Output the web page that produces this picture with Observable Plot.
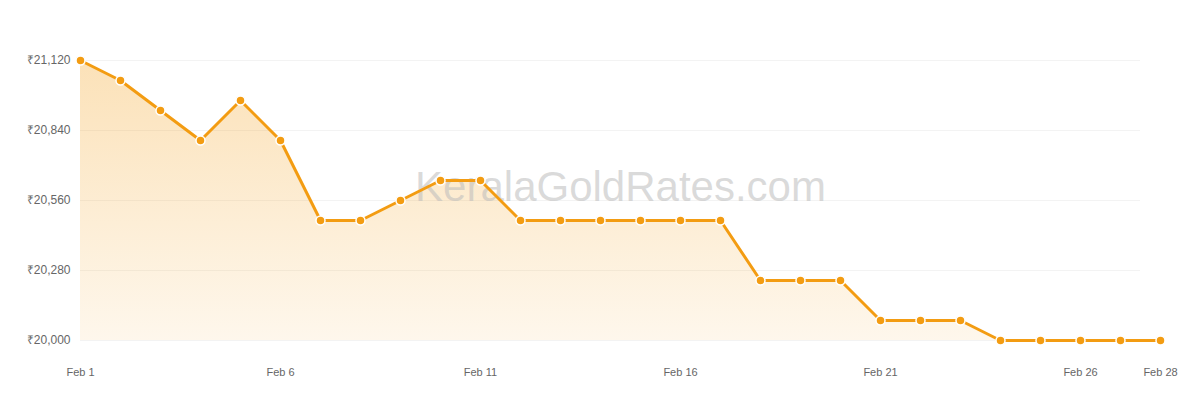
<!DOCTYPE html>
<html>
<head>
<meta charset="utf-8">
<script src="https://cdn.jsdelivr.net/npm/d3@7"></script>
<script src="https://cdn.jsdelivr.net/npm/@observablehq/plot@0.6"></script>
<style>
  html, body { margin: 0; padding: 0; background: #fff; }
  #chart { width: 1200px; height: 400px; }
  svg { font-family: "Liberation Sans", Arial, sans-serif; }
</style>
</head>
<body>
<div id="chart"></div>
<script>
const days = [1,2,3,4,5,6,7,8,9,10,11,12,13,14,15,16,17,18,19,20,21,22,23,24,25,26,27,28];
const prices = [21120,21040,20920,20800,20960,20800,20480,20480,20560,20640,20640,20480,20480,20480,20480,20480,20480,20240,20240,20240,20080,20080,20080,20000,20000,20000,20000,20000];
const yTicks = [20000,20280,20560,20840,21120];
const xTickDays = [1,6,11,16,21,26,28];
const watermark = "KeralaGoldRates.com";

const data = days.map((d, i) => ({date: new Date(2024, 1, d), price: prices[i]}));
const xTicks = xTickDays.map(d => new Date(2024, 1, d));
const fmtDate = d => "Feb " + d.getDate();
const fmtPrice = v => "₹" + d3.format(",")(v);

const chart = Plot.plot({
  width: 1200,
  height: 400,
  marginLeft: 80,
  marginRight: 40,
  marginTop: 60,
  marginBottom: 60,
  style: {fontFamily: "'Liberation Sans', Arial, sans-serif", background: "#fff"},
  x: {type: "time", domain: [data[0].date, data[data.length-1].date]},
  y: {domain: [20000, 21120]},
  marks: [
    () => {
      const svg = d3.create("svg:defs");
      const g = svg.append("linearGradient").attr("id", "goldGrad").attr("x1", 0).attr("y1", 0).attr("x2", 0).attr("y2", 1);
      g.append("stop").attr("offset", "0%").attr("stop-color", "#f39c12").attr("stop-opacity", 0.3);
      g.append("stop").attr("offset", "100%").attr("stop-color", "#f39c12").attr("stop-opacity", 0.08);
      return svg.node();
    },
    Plot.ruleY(yTicks, {stroke: "#f3f3f3", strokeWidth: 1, insetRight: 20}),
    Plot.areaY(data, {x: "date", y1: 20000, y2: "price", fill: "url(#goldGrad)"}),
    Plot.text([watermark], {frameAnchor: "middle", fontSize: 42, fill: "#bbbbbb", fillOpacity: 0.55, dy: -13, fontFamily: "'Liberation Sans', Arial, sans-serif"}),
    Plot.line(data, {x: "date", y: "price", stroke: "#f39c12", strokeWidth: 3}),
    Plot.dot(data, {x: "date", y: "price", r: 4.5, fill: "#f39c12", stroke: "#fff", strokeWidth: 1.5}),
    Plot.axisY({ticks: yTicks, tickFormat: fmtPrice, tickSize: 0, tickPadding: 10, label: null, fontSize: 12, color: "#666"}),
    Plot.axisX({ticks: xTicks, tickFormat: fmtDate, tickSize: 0, tickPadding: 28, label: null, fontSize: 11, color: "#666"})
  ]
});
document.getElementById("chart").appendChild(chart);
</script>
</body>
</html>
